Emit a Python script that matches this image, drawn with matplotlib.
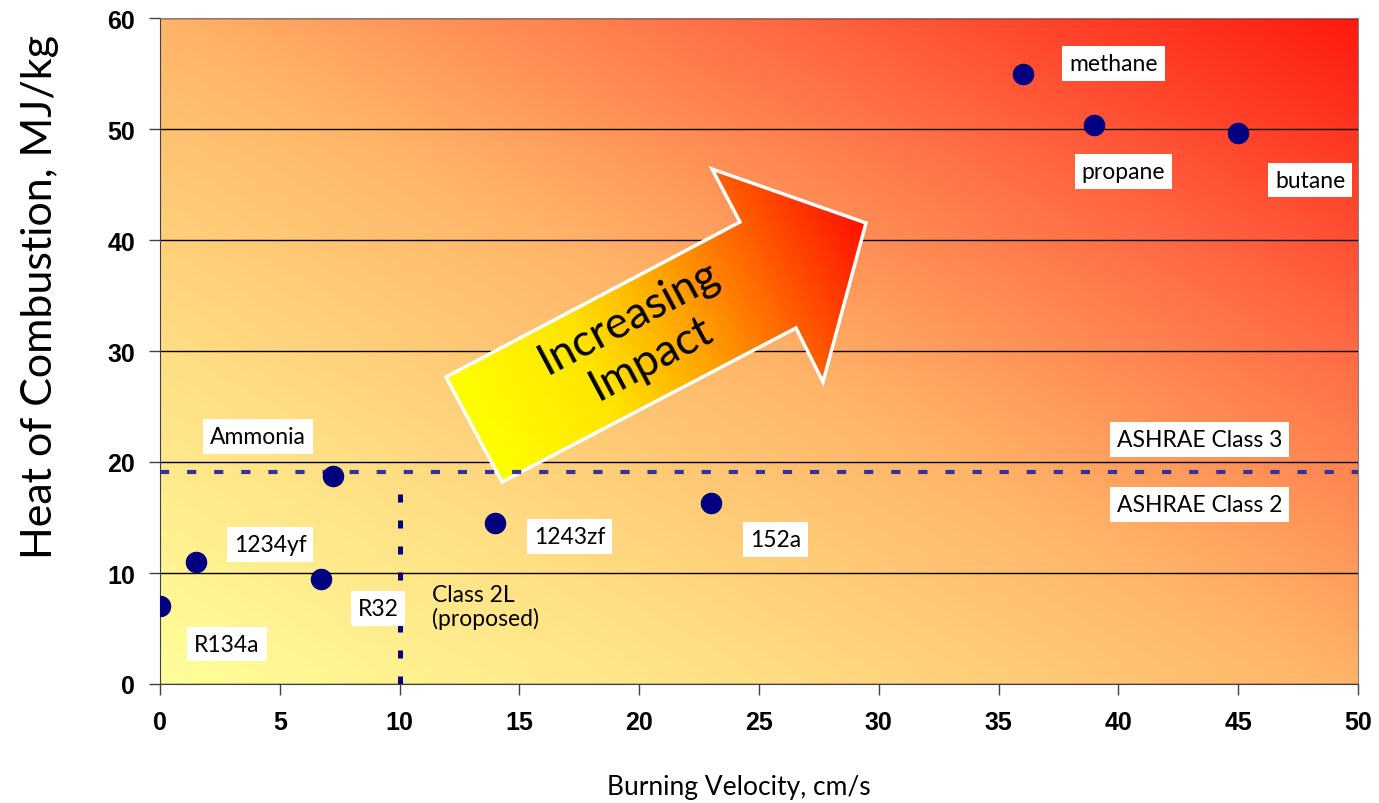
import numpy as np
import matplotlib
matplotlib.use("Agg")
import matplotlib.pyplot as plt
from matplotlib.colors import LinearSegmentedColormap
from matplotlib.patches import Polygon

# refrigerants: burning velocity (cm/s) vs heat of combustion (MJ/kg)
names = ["R134a", "1234yf", "R32", "Ammonia", "1243zf", "152a",
         "methane", "propane", "butane"]
velocity = [0.0, 1.5, 6.7, 7.2, 14.0, 23.0, 36.0, 39.0, 45.0]
heat = [7.0, 11.0, 9.5, 18.7, 14.5, 16.3, 55.0, 50.4, 49.6]
# where each label box sits (data units)
label_x = [2.8, 4.6, 9.1, 4.1, 17.1, 25.7, 39.8, 40.2, 48.0]
label_y = [3.6, 12.6, 6.8, 22.3, 13.3, 13.0, 55.9, 46.2, 45.4]

class_limit = 19.1      # ASHRAE class 2 / 3 boundary
class2l_velocity = 10   # proposed class 2L limit
xticks = [0, 5, 10, 15, 20, 25, 30, 35, 40, 45, 50]
yticks = [0, 10, 20, 30, 40, 50, 60]

LBL = "Lato"
TICK = "Liberation Sans"

fig = plt.figure(figsize=(13.79, 8.04), dpi=100)
ax = fig.add_axes([160/1379, 1-685/804, 1198/1379, 666/804])
ax.set_xlim(0, 50)
ax.set_ylim(0, 60)

# diagonal background gradient
bg = LinearSegmentedColormap.from_list(
    "bg", [(0, "#FFFF9A"), (0.25, "#FFDE84"), (0.5, "#FFB468"),
           (0.75, "#FF6A44"), (1.0, "#FF1A10")])
u, v = np.meshgrid(np.linspace(0, 1, 400), np.linspace(0, 1, 300))
ax.imshow((u + v) / 2, cmap=bg, vmin=0, vmax=1, origin="lower",
          extent=[0, 1, 0, 1], transform=ax.transAxes, aspect="auto",
          interpolation="bilinear", zorder=0.2)

ax.set_axisbelow(True)
ax.yaxis.grid(True, color="black", lw=1)
for s in ["top", "right"]:
    ax.spines[s].set_color("#808080")
for s in ["left", "bottom"]:
    ax.spines[s].set_color("#404040")

# class boundary lines
ax.axhline(class_limit, color="#333399", lw=3, ls=(0, (2.2, 4.3)), zorder=3)
ax.plot([class2l_velocity, class2l_velocity], [0, 17.6], color="#000080",
        lw=3.6, ls=(0, (1.6, 3.6)), zorder=3)

# arrow (axes fraction, from the drawing)
px = np.array([446, 740, 712, 866, 823, 796, 502])
py = np.array([378, 223, 170, 224, 383, 329, 483])
pts = np.column_stack([(px - 160) / 1198, (685 - py) / 666])
arr_cmap = LinearSegmentedColormap.from_list(
    "arr", [(0, "#FFFF00"), (0.3, "#FFE400"), (0.55, "#FFA000"),
            (0.8, "#FF5000"), (1.0, "#FF1000")])
gu, gv = np.meshgrid(np.linspace(0, 1, 500), np.linspace(0, 1, 400))
d = np.array([392.0, 206.0])
d /= np.hypot(*d)
proj = gu * 1198 * d[0] + gv * 666 * d[1]
p0 = (pts[0, 0] * 1198 * d[0] + pts[0, 1] * 666 * d[1])
p1 = (pts[3, 0] * 1198 * d[0] + pts[3, 1] * 666 * d[1])
grad = ax.imshow((proj - p0) / (p1 - p0), cmap=arr_cmap, vmin=0, vmax=1,
                 origin="lower", extent=[0, 1, 0, 1], transform=ax.transAxes,
                 aspect="auto", interpolation="bilinear", zorder=2)
arrow = Polygon(pts, closed=True, transform=ax.transAxes, fc="none",
                ec="white", lw=2.5, zorder=2.1)
ax.add_patch(arrow)
grad.set_clip_path(arrow)
ax.text((640 - 160) / 1198, (685 - 338) / 666, "Increasing\nImpact",
        transform=ax.transAxes, rotation=28, ha="center", va="center",
        multialignment="center", fontsize=32, family=LBL, zorder=2.2,
        linespacing=1.2)

ax.scatter(velocity, heat, s=210, color="#000080", zorder=4)

box = dict(fc="white", ec="none", pad=5)
for n, x, y in zip(names, label_x, label_y):
    ax.text(x, y, n, ha="center", va="center", fontsize=16.5, family=LBL,
            bbox=box, zorder=5)
ax.text(11.35, 7.0, "Class 2L\n(proposed)", ha="left", va="center",
        fontsize=16.5, family=LBL, zorder=5, linespacing=1.1)
ax.text(43.4, 22.0, "ASHRAE Class 3", ha="center", va="center",
        fontsize=16.5, family=LBL, bbox=box, zorder=5)
ax.text(43.4, 16.2, "ASHRAE Class 2", ha="center", va="center",
        fontsize=16.5, family=LBL, bbox=box, zorder=5)

ax.set_xticks(xticks)
ax.set_yticks(yticks)
ax.tick_params(length=8, width=1, color="#404040")
ax.tick_params(axis="x", pad=11)
ax.tick_params(axis="y", pad=10)
for t in ax.get_xticklabels() + ax.get_yticklabels():
    t.set_fontfamily(TICK)
    t.set_fontweight("bold")
    t.set_fontsize(18)

fig.text(739/1379, 1-788/804, "Burning Velocity, cm/s", ha="center",
         va="center", fontsize=19, family=LBL)
fig.text(40/1379, 1-297/804, "Heat of Combustion, MJ/kg", ha="center",
         va="center", rotation=90, fontsize=31, family=LBL)

fig.savefig("out.png", dpi=100)
